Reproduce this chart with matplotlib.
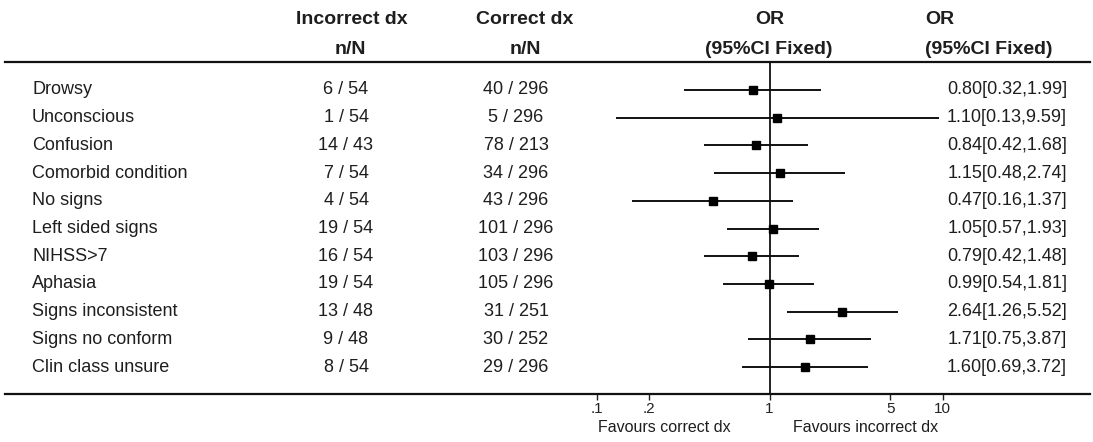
import matplotlib
matplotlib.use("Agg")
import matplotlib.pyplot as plt
from matplotlib import font_manager
from matplotlib.transforms import blended_transform_factory

# Subgroup rows of the forest plot
labels = ["Drowsy", "Unconscious", "Confusion", "Comorbid condition", "No signs",
          "Left sided signs", "NIHSS>7", "Aphasia", "Signs inconsistent",
          "Signs no conform", "Clin class unsure"]
inc_n = [6, 1, 14, 7, 4, 19, 16, 19, 13, 9, 8]
inc_N = [54, 54, 43, 54, 54, 54, 54, 54, 48, 48, 54]
cor_n = [40, 5, 78, 34, 43, 101, 103, 105, 31, 30, 29]
cor_N = [296, 296, 213, 296, 296, 296, 296, 296, 251, 252, 296]
odds = [0.80, 1.10, 0.84, 1.15, 0.47, 1.05, 0.79, 0.99, 2.64, 1.71, 1.60]
ci_lo = [0.32, 0.13, 0.42, 0.48, 0.16, 0.57, 0.42, 0.54, 1.26, 0.75, 0.69]
ci_hi = [1.99, 9.59, 1.68, 2.74, 1.37, 1.93, 1.48, 1.81, 5.52, 3.87, 3.72]

tick_vals = [0.1, 0.2, 1, 5, 10]
tick_text = [".1", ".2", "1", "5", "10"]

names = {f.name for f in font_manager.fontManager.ttflist}
body_font = "Liberation Sans"
head_font = "Liberation Sans Narrow" if "Liberation Sans Narrow" in names else "Liberation Sans"
plt.rcParams["font.family"] = body_font

W, H = 1093, 442
fig = plt.figure(figsize=(W / 100, H / 100), dpi=100)

# pixel layout of the plotting region
top_px, bot_px = 62, 394
row0_px, row_step = 90, 27.7
left_px, right_px = 580, 960
one_px, decade_px = 769.5, 173.0

ax = fig.add_axes([left_px / W, (H - bot_px) / H,
                   (right_px - left_px) / W, (bot_px - top_px) / H])
ax.set_xscale("log")
ax.set_xlim(10 ** ((left_px - one_px) / decade_px), 10 ** ((right_px - one_px) / decade_px))
ax.set_ylim((bot_px - row0_px) / row_step, (top_px - row0_px) / row_step)
for s in ax.spines.values():
    s.set_visible(False)
ax.set_yticks([])
ax.set_xticks(tick_vals)
ax.set_xticklabels(tick_text)
ax.xaxis.set_minor_locator(matplotlib.ticker.NullLocator())
ax.tick_params(axis="x", direction="out", length=4, width=1, color="#222222",
               pad=2, labelsize=11, labelcolor="#222222")
ax.patch.set_alpha(0)

rows = list(range(len(labels)))
ax.axvline(1, color="#111111", lw=1.3, zorder=1)
ax.hlines(rows, ci_lo, ci_hi, color="#111111", lw=1.4, zorder=2)
ax.plot(odds, rows, "s", color="#000000", ms=5.2, zorder=3)

tr = blended_transform_factory(fig.transFigure, ax.transData)
ink = "#1e1e1e"
fs = 13
for i in rows:
    ax.text(32 / W, i, labels[i], transform=tr, ha="left", va="center",
            fontsize=fs, color=ink)
    ax.text(346 / W, i, f"{inc_n[i]} / {inc_N[i]}", transform=tr, ha="center",
            va="center", fontsize=fs, color=ink)
    ax.text(516 / W, i, f"{cor_n[i]} / {cor_N[i]}", transform=tr, ha="center",
            va="center", fontsize=fs, color=ink)
    ax.text(1067 / W, i, f"{odds[i]:.2f}[{ci_lo[i]:.2f},{ci_hi[i]:.2f}]",
            transform=tr, ha="right", va="center", fontsize=fs, color=ink)

# rules above and below the table
for y_px in (top_px, bot_px):
    fig.add_artist(matplotlib.lines.Line2D([5 / W, 1090 / W], [1 - y_px / H] * 2,
                                           color="#111111", lw=1.6))

# column headers
hd = dict(fontsize=14, fontweight="bold", family=head_font, color=ink, va="center")
fig.text(352 / W, 1 - 20 / H, "Incorrect dx", ha="center", **hd)
fig.text(350 / W, 1 - 50 / H, "n/N", ha="center", **hd)
fig.text(525 / W, 1 - 20 / H, "Correct dx", ha="center", **hd)
fig.text(525 / W, 1 - 50 / H, "n/N", ha="center", **hd)
fig.text(770 / W, 1 - 20 / H, "OR", ha="center", **hd)
fig.text(769 / W, 1 - 50 / H, "(95%CI Fixed)", ha="center", **hd)
fig.text(925 / W, 1 - 20 / H, "OR", ha="left", **hd)
fig.text(925 / W, 1 - 50 / H, "(95%CI Fixed)", ha="left", **hd)

# direction labels under the axis
fig.text(664 / W, 1 - 427 / H, "Favours correct dx", ha="center", va="center",
         fontsize=11.5, color=ink)
fig.text(866 / W, 1 - 427 / H, "Favours incorrect dx", ha="center", va="center",
         fontsize=11.5, color=ink)

fig.savefig("out.png", dpi=100, facecolor="white")
